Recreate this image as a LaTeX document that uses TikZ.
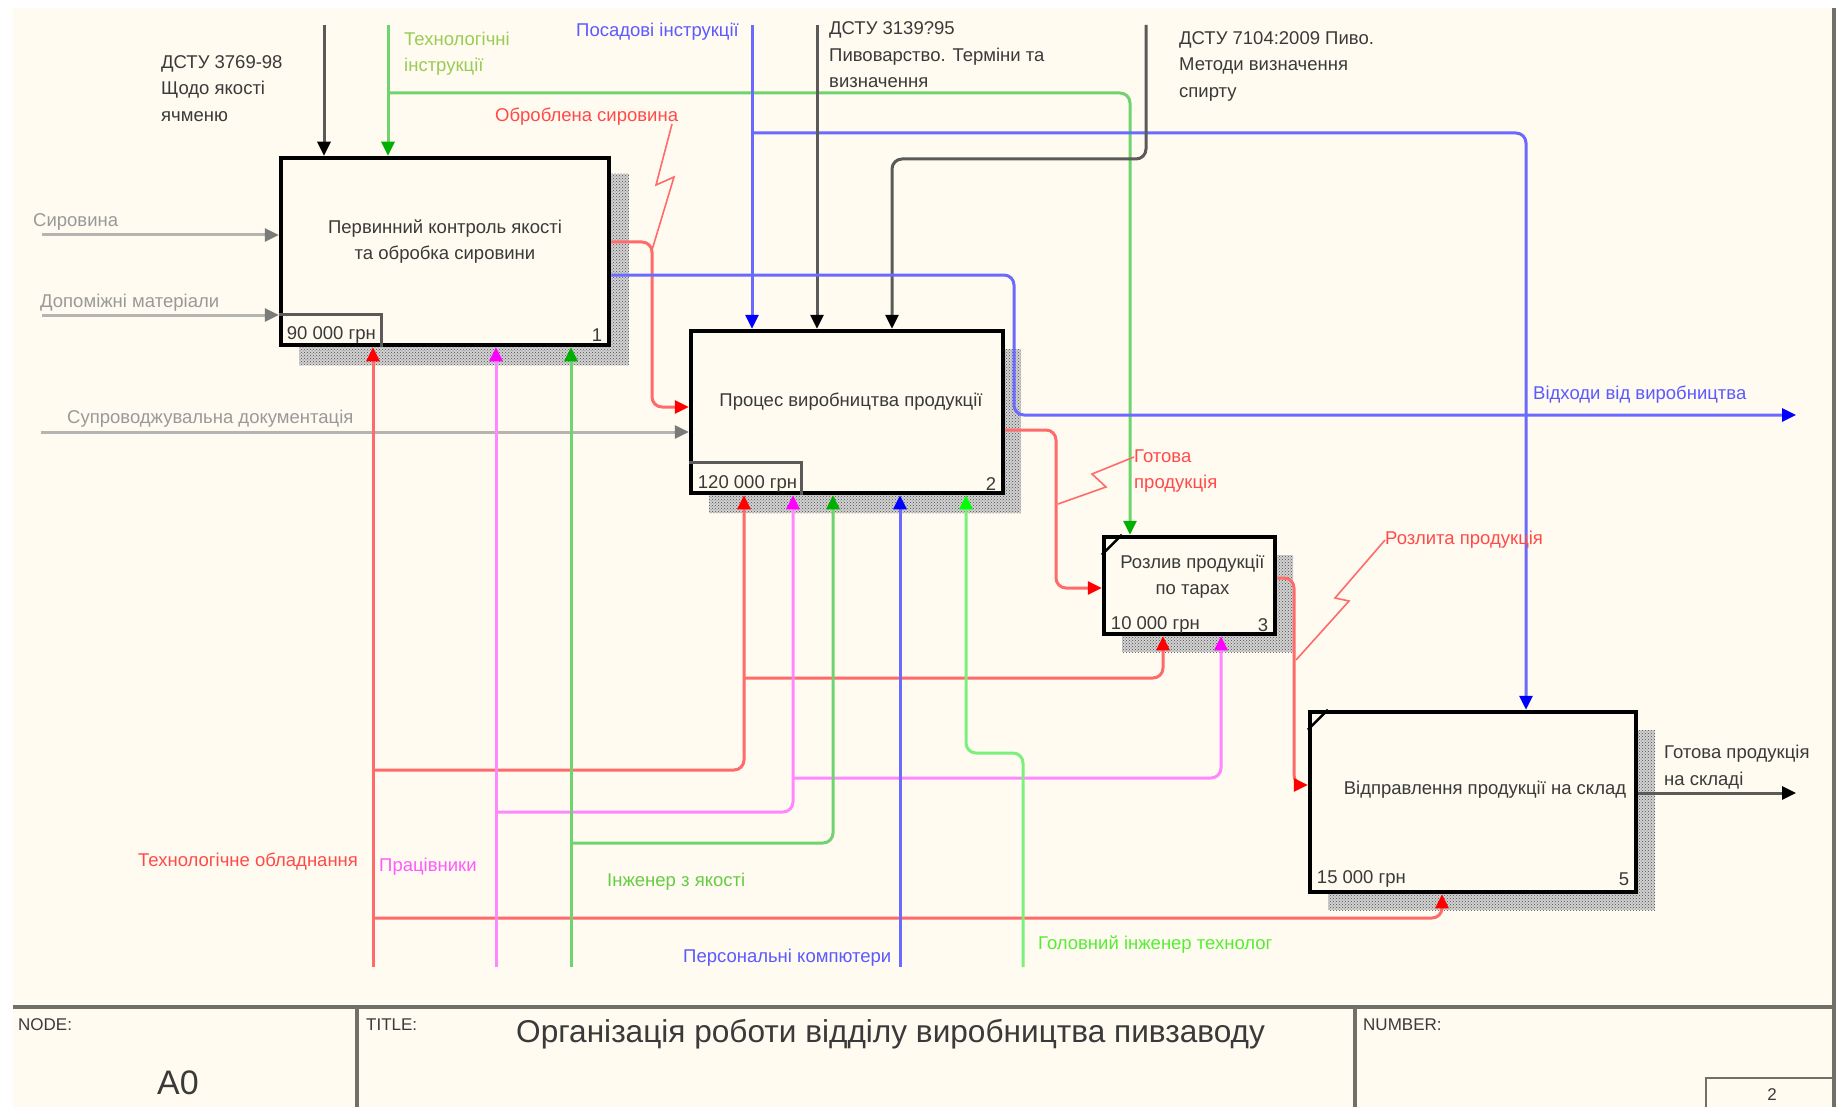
\documentclass[tikz,border=0pt]{standalone}
\usepackage{fontspec}
\setmainfont{Liberation Sans}
\usetikzlibrary{arrows.meta,patterns,calc}
\definecolor{bg}{HTML}{FFFBF0}
\definecolor{cred}{HTML}{FF6A6A}
\definecolor{tred}{HTML}{FF0000}
\definecolor{cblu}{HTML}{6A6AFF}
\definecolor{tblu}{HTML}{0000FF}
\definecolor{cmag}{HTML}{FF88FF}
\definecolor{tmag}{HTML}{FF00FF}
\definecolor{cgrn}{HTML}{6FD46F}
\definecolor{tgrn}{HTML}{00B000}
\definecolor{clim}{HTML}{7CF07C}
\definecolor{tlim}{HTML}{00FF00}
\definecolor{cgry}{HTML}{B4B4B0}
\definecolor{tgry}{HTML}{7A7A7A}
\definecolor{cblk}{HTML}{5A5A58}
\definecolor{cframe}{HTML}{707068}
\definecolor{xred}{HTML}{FF4A4A}
\definecolor{xblu}{HTML}{5A5AFF}
\definecolor{xmag}{HTML}{FF5AFF}
\definecolor{xgrn}{HTML}{66CC44}
\definecolor{xtech}{HTML}{99CC55}
\definecolor{xlim}{HTML}{55EE33}
\definecolor{xgry}{HTML}{999999}
\definecolor{xtxt}{HTML}{3A3A3A}
\begin{document}
\begin{tikzpicture}[x=1pt,y=-1pt,
  box/.style={draw=black,line width=4.5pt,fill=bg,inner sep=0pt},
  btxt/.style={inner sep=0pt,align=center,text=xtxt,font=\fontsize{18.5}{26}\selectfont},
  small/.style={inner sep=0pt,text=xtxt,font=\fontsize{18.5}{22}\selectfont},
  lbl/.style={inner sep=0pt,align=left,font=\fontsize{18.5}{26.5}\selectfont},
  ln/.style={line width=3pt},
  arr/.style={-{Triangle[length=14pt,width=13pt,color=#1]}},
  sq/.style={cred,line width=1.6pt},
  costln/.style={draw=cblk,line width=3pt},
  corner/.style={draw=black,line width=2.5pt},
  frameln/.style={draw=cframe,line width=4pt},
  tb/.style={inner sep=0pt,text=xtxt,font=\fontsize{17}{20}\selectfont},
  shade/.style={fill=gray!35,postaction={pattern=crosshatch dots,pattern color=gray!60!black}}
]
\useasboundingbox (0,0) rectangle (1838,1107);
\fill[white] (0,0) rectangle (1838,1107);
\fill[bg] (13,8) rectangle (1836,1107);

% ---------- boxes ----------
\coordinate (s1a) at (299,174); \coordinate (s1b) at (629,365);
\coordinate (s2a) at (709,349); \coordinate (s2b) at (1021,513);
\coordinate (s3a) at (1122,555); \coordinate (s3b) at (1293,652);
\coordinate (s5a) at (1328,730); \coordinate (s5b) at (1655,910);
\fill[shade] (s1a) rectangle (s1b);
\fill[shade] (s2a) rectangle (s2b);
\fill[shade] (s3a) rectangle (s3b);
\fill[shade] (s5a) rectangle (s5b);

\node[box,minimum width=328pt,minimum height=187pt] (b1) at (445,251.5) {};
\node[box,minimum width=312pt,minimum height=162pt] (b2) at (847,412) {};
\node[box,minimum width=171pt,minimum height=97pt] (b3) at (1189.5,585.5) {};
\node[box,minimum width=326pt,minimum height=180pt] (b5) at (1473,802) {};

\node[btxt] (b1t) at ($(b1.center)+(0,-10)$) {Первинний контроль якості\\та обробка сировини};
\node[btxt] (b2t) at ($(b2.center)+(4,-10)$) {Процес виробництва продукції};
\node[btxt] (b3t) at ($(b3.center)+(3,-9)$) {Розлив продукції\\по тарах};
\node[btxt] (b5t) at ($(b5.center)+(12,-12)$) {Відправлення продукції на склад};

\draw[costln] ($(b1.south west)+(0,-33)$) -- ($(b1.south west)+(103,-33)$) -- ($(b1.south west)+(103,0)$);
\draw[costln] ($(b2.south west)+(0,-33)$) -- ($(b2.south west)+(113,-33)$) -- ($(b2.south west)+(113,0)$);
\draw[corner] ($(b3.north west)+(0,20)$) -- ($(b3.north west)+(20,0)$);
\draw[corner] ($(b5.north west)+(0,20)$) -- ($(b5.north west)+(20,0)$);

\node[small,anchor=west] (b1c) at ($(b1.south west)+(8,-12)$) {90 000 грн};
\node[small,anchor=east] (b1n) at ($(b1.south east)+(-9,-12)$) {1};
\node[small,anchor=west] (b2c) at ($(b2.south west)+(9,-11)$) {120 000 грн};
\node[small,anchor=east] (b2n) at ($(b2.south east)+(-9,-11)$) {2};
\node[small,anchor=west] (b3c) at ($(b3.south west)+(9,-11)$) {10 000 грн};
\node[small,anchor=east] (b3n) at ($(b3.south east)+(-9,-11)$) {3};
\node[small,anchor=west] (b5c) at ($(b5.south west)+(9,-15)$) {15 000 грн};
\node[small,anchor=east] (b5n) at ($(b5.south east)+(-9,-15)$) {5};

% ---------- free ends ----------
\coordinate (sDstu1) at (324,25);
\coordinate (sTech) at (388,25);
\coordinate (sPos) at (752,25);
\coordinate (sDstu2) at (817,25);
\coordinate (sDstu3) at (1146,25);
\coordinate (sSyr) at (42,235);
\coordinate (sDop) at (42,315);
\coordinate (sSup) at (41,432);
\coordinate (eWaste) at (1796,415);
\coordinate (eOut) at (1796,793);
\coordinate (sEq) at (373,967);
\coordinate (sWork) at (496,967);
\coordinate (sEng) at (571,967);
\coordinate (sPC) at (900,967);
\coordinate (sChief) at (1023,967);

% ---------- controls ----------
\coordinate (gT0) at (388,93); \coordinate (gT) at (1130,93);
\draw[ln,cgrn,arr=tgrn,rounded corners=10pt] (gT0) -- (gT) -- (gT |- b3.north);
\draw[ln,cblk,arr=black] (sDstu1) -- (sDstu1 |- b1.north);
\draw[ln,cgrn,arr=tgrn] (sTech) -- (sTech |- b1.north);

\coordinate (bP0) at (752,133); \coordinate (bP) at (1526,133);
\draw[ln,cblu,arr=tblu,rounded corners=10pt] (bP0) -- (bP) -- (bP |- b5.north);
\draw[ln,cblu,arr=tblu] (sPos) -- (sPos |- b2.north);
\draw[ln,cblk,arr=black] (sDstu2) -- (sDstu2 |- b2.north);
\coordinate (k1) at (1146,159); \coordinate (k2) at (892,159);
\draw[ln,cblk,arr=black,rounded corners=10pt] (sDstu3) -- (k1) -- (k2) -- (k2 |- b2.north);

% ---------- inputs / outputs ----------
\draw[ln,cgry,arr=tgry] (sSyr) -- (sSyr -| b1.west);
\draw[ln,cgry,arr=tgry] (sDop) -- (sDop -| b1.west);
\draw[ln,cgry,arr=tgry] (sSup) -- (sSup -| b2.west);

\coordinate (r1) at (652,242); \coordinate (r2) at (652,407);
\draw[ln,cred,arr=tred,rounded corners=10pt] (r1 -| b1.east) -- (r1) -- (r2) -- (r2 -| b2.west);

\coordinate (w1) at (1014,275); \coordinate (w2) at (1014,415);
\draw[ln,cblu,arr=tblu,rounded corners=10pt] (w1 -| b1.east) -- (w1) -- (w2) -- (eWaste);

\coordinate (g1) at (1056,430); \coordinate (g2) at (1056,588);
\draw[ln,cred,arr=tred,rounded corners=10pt] (g1 -| b2.east) -- (g1) -- (g2) -- (g2 -| b3.west);

\coordinate (p1) at (1294,578); \coordinate (p2) at (1294,785);
\draw[ln,cred,arr=tred,rounded corners=10pt] (p1 -| b3.east) -- (p1) -- (p2) -- (p2 -| b5.west);

\draw[ln,cblk,arr=black] (eOut -| b5.east) -- (eOut);

% ---------- mechanisms ----------
\coordinate (m1) at (744,770); \coordinate (m2) at (1163,678); \coordinate (m3) at (1442,918);
\draw[ln,cred,arr=tred,rounded corners=10pt] (sEq |- m1) -- (m1) -- (m1 |- b2.south);
\draw[ln,cred,arr=tred,rounded corners=10pt] (m1 |- m2) -- (m2) -- (m2 |- b3.south);
\draw[ln,cred,arr=tred,rounded corners=10pt] (sEq |- m3) -- (m3) -- (m3 |- b5.south);
\draw[ln,cred,arr=tred] (sEq) -- (sEq |- b1.south);

\coordinate (n1) at (793,812); \coordinate (n2) at (1221,778);
\draw[ln,cmag,arr=tmag,rounded corners=10pt] (sWork |- n1) -- (n1) -- (n1 |- b2.south);
\draw[ln,cmag,arr=tmag,rounded corners=10pt] (n1 |- n2) -- (n2) -- (n2 |- b3.south);
\draw[ln,cmag,arr=tmag] (sWork) -- (sWork |- b1.south);

\coordinate (e1) at (833,843);
\draw[ln,cgrn,arr=tgrn,rounded corners=10pt] (sEng |- e1) -- (e1) -- (e1 |- b2.south);
\draw[ln,cgrn,arr=tgrn] (sEng) -- (sEng |- b1.south);

\draw[ln,cblu,arr=tblu] (sPC) -- (sPC |- b2.south);

\coordinate (h1) at (1023,753); \coordinate (h2) at (966,753);
\draw[ln,clim,arr=tlim,rounded corners=10pt] (sChief) -- (h1) -- (h2) -- (h2 |- b2.south);

% ---------- labels ----------
\node[lbl,anchor=west,text=xtxt] (lD1) at (161,88.5) {ДСТУ 3769-98\\Щодо якості\\ячменю};
\node[lbl,anchor=west,text=xtech] (lTech) at (404,53.5) {Технологічні\\інструкції};
\node[lbl,anchor=west,text=xblu] (lPos) at (576,32) {Посадові інструкції};
\node[lbl,anchor=west,text=xtxt] (lD2) at (829,55) {ДСТУ 3139?95\\Пивоварство. Терміни та\\визначення};
\node[lbl,anchor=west,text=xtxt] (lD3) at (1179,66) {ДСТУ 7104:2009 Пиво.\\Методи визначення\\спирту};
\node[lbl,anchor=west,text=xred] (lObr) at (495,117) {Оброблена сировина};
\node[lbl,anchor=west,text=xgry] (lSyr) at (33,222) {Сировина};
\node[lbl,anchor=west,text=xgry] (lDop) at (40,303) {Допоміжні матеріали};
\node[lbl,anchor=west,text=xgry] (lSup) at (67,419) {Супроводжувальна документація};
\node[lbl,anchor=west,text=xred] (lGot) at (1134,471) {Готова\\продукція};
\node[lbl,anchor=west,text=xblu] (lWaste) at (1533,395) {Відходи від виробництва};
\node[lbl,anchor=west,text=xred] (lRoz) at (1385,540) {Розлита продукція};
\node[lbl,anchor=west,text=xtxt] (lOut) at (1664,767) {Готова продукція\\на складі};
\node[lbl,anchor=west,text=xred] (lEq) at (138,862) {Технологічне обладнання};
\node[lbl,anchor=west,text=xmag] (lWork) at (379,867) {Працівники};
\node[lbl,anchor=west,text=xgrn] (lEng) at (607,882) {Інженер з якості};
\node[lbl,anchor=west,text=xblu] (lPC) at (683,958) {Персональні компютери};
\node[lbl,anchor=west,text=xlim] (lChief) at (1038,945) {Головний інженер технолог};

% squiggles
\draw[sq] (672,124) -- (656,185) -- (674,177) -- (r1 |- 0,250);
\draw[sq] (1134,457) -- (1092,474) -- (1106,487) -- (1058,504);
\draw[sq] (1385,540) -- (1335,598) -- (1349,601) -- (1296,660);

% ---------- frame / title block ----------
\draw[frameln] (1834,8) -- (1834,1107);
\draw[frameln] (13,1007) -- (1834,1007);
\draw[frameln] (357,1007) -- (357,1107);
\draw[frameln] (1355,1007) -- (1355,1107);
\draw[frameln,line width=2.5pt] (1706,1107) |- (1834,1078);
\node[tb,anchor=west] (tNode) at (18,1025) {NODE:};
\node[inner sep=0pt,text=xtxt,font=\fontsize{34}{40}\selectfont] (tA0) at (178,1083) {A0};
\node[tb,anchor=west] (tTitle) at (366,1025) {TITLE:};
\node[inner sep=0pt,anchor=west,text=xtxt,font=\fontsize{31.6}{38}\selectfont] (tText) at (516,1034) {Організація роботи відділу виробництва пивзаводу};
\node[tb,anchor=west] (tNum) at (1363,1025) {NUMBER:};
\node[tb] (tTwo) at (1772,1095) {2};
\end{tikzpicture}
\end{document}
